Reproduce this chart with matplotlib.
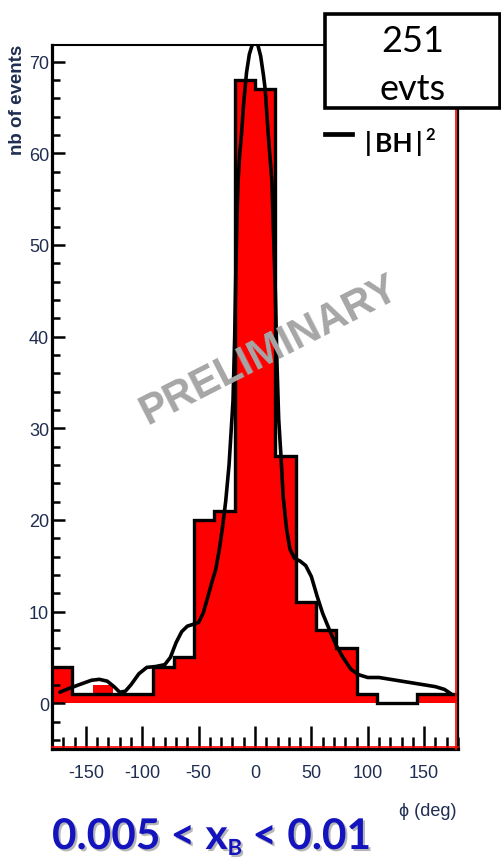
import matplotlib
matplotlib.use("Agg")
import matplotlib.pyplot as plt
import matplotlib.patheffects as pe
from matplotlib.patches import Rectangle
from matplotlib.lines import Line2D
from matplotlib.ticker import MultipleLocator

plt.rcParams["axes.unicode_minus"] = False

# -----------------------------------------------------------
# DATA
# -----------------------------------------------------------
phi_edges = [-180, -162, -144, -126, -108, -90, -72, -54, -36, -18, 0,
             18, 36, 54, 72, 90, 108, 126, 144, 162, 180]
counts_fill = [4, 1, 2, 1, 1, 4, 5, 20, 21, 68, 67, 27, 11, 8, 6, 1, 0, 0, 1, 1]
counts_line = [4, 1, 1, 1, 1, 4, 5, 20, 21, 68, 67, 27, 11, 8, 6, 1, 0, 0, 1, 1]

# |BH|^2 expectation
phi_bh = [-173, -165, -154, -145, -138, -131, -125, -120, -115, -110, -103, -96,
          -88, -80, -75, -70, -65, -60, -55, -50, -46, -42, -38, -35, -32, -29,
          -26, -23, -21, -19.5, -18, -17, -16, -15, -13.5, -12, -10, -7.5, -5,
          -2.5, 0, 2.5, 5, 7.5, 9, 11.5, 13, 15, 16.5, 18, 19.5, 21, 23, 25, 28,
          31, 35, 40, 45, 50, 55, 60, 66, 72, 78, 85, 92, 100, 110, 120, 130,
          140, 150, 160, 168, 174]
bh_vals = [1.2, 1.6, 2.1, 2.5, 2.6, 2.4, 1.8, 1.2, 1.3, 2.0, 3.2, 3.9,
           4.0, 4.2, 5.0, 6.6, 7.8, 8.4, 8.6, 8.8, 9.8, 11.5, 13.3, 14.5, 16.5, 19,
           22, 26, 30, 33, 40, 47, 53, 57, 60, 62, 65.5, 68.8, 70.8,
           71.8, 72, 71.8, 70.6, 68.5, 67, 62.5, 60, 57, 51, 45, 37, 31, 27, 22.5, 19,
           16.8, 15.8, 15.5, 15, 13.8, 11.7, 9.8, 8, 6.3, 5, 3.7, 3.1, 2.8, 2.8, 2.6, 2.4,
           2.2, 2.0, 1.8, 1.5, 1.0]

n_events = 251
xb_low, xb_high = "0.005", "0.01"

W, H = 502, 862
TICK_COLOR = "#1f2d50"


def fpos(x, y):
    # pixel position (from top-left) -> figure fraction
    return x / W, 1 - y / H


# -----------------------------------------------------------
# FIGURE
# -----------------------------------------------------------
fig = plt.figure(figsize=(W / 100, H / 100), dpi=100)
fig.patch.set_facecolor("white")
ax = fig.add_axes([52 / W, (H - 750) / H, (458 - 52) / W, (750 - 46) / H])

ax.stairs(counts_fill, phi_edges, fill=True, color="#ff0000", baseline=0, zorder=1)
ax.stairs(counts_line, phi_edges, color="black", lw=2.4, baseline=None, zorder=2)
ax.plot(phi_bh, bh_vals, color="black", lw=2.6, solid_capstyle="round", zorder=3)

ax.set_xlim(-180, 180)
ax.set_ylim(-5, 71.8)

# frame
for side, lw in (("left", 2.3), ("bottom", 2.3), ("top", 1.5), ("right", 1.6)):
    ax.spines[side].set_linewidth(lw)
    ax.spines[side].set_color("black")
ax.plot([0, 1], [0.0035, 0.0035], transform=ax.transAxes, color="red", lw=1.2, zorder=4, clip_on=False)
ax.plot([0.9955, 0.9955], [0, 1], transform=ax.transAxes, color="red", lw=1.2, zorder=4, clip_on=False)

# ticks
ax.xaxis.set_major_locator(MultipleLocator(50))
ax.xaxis.set_minor_locator(MultipleLocator(10))
ax.yaxis.set_major_locator(MultipleLocator(10))
ax.yaxis.set_minor_locator(MultipleLocator(2))
ax.tick_params(axis="x", which="major", direction="in", length=16.5, width=1.8, pad=11,
               top=False, labelsize=13, labelcolor=TICK_COLOR)
ax.tick_params(axis="x", which="minor", direction="in", length=8.5, width=1.8, top=False)
ax.tick_params(axis="y", which="major", direction="in", length=9.5, width=1.8, pad=2,
               right=False, labelsize=13, labelcolor=TICK_COLOR)
ax.tick_params(axis="y", which="minor", direction="in", length=5.8, width=1.8, right=False)
for lab in ax.get_xticklabels() + ax.get_yticklabels():
    lab.set_family("Liberation Sans")

# axis titles
fig.text(*fpos(18, 45), "nb of events", rotation=90, ha="center", va="top",
         fontsize=13.5, family="Liberation Sans", fontweight="bold", color=TICK_COLOR)
fig.text(*fpos(457, 816), "\u03d5 (deg)", ha="right", va="baseline",
         fontsize=13, family=["Liberation Sans", "DejaVu Sans"], color=TICK_COLOR)

# watermark
ax.text(0.535, 0.568, "PRELIMINARY", transform=ax.transAxes, rotation=27,
        rotation_mode="anchor", ha="center", va="center", fontsize=30,
        fontweight="bold", family="Liberation Sans", color="#a6a6a6", zorder=5)

# event count box
box = Rectangle(fpos(325.5, 108.5), (500.5 - 325.5) / W, (108.5 - 14.5) / H,
                transform=fig.transFigure, facecolor="white", edgecolor="black",
                lw=2.6, zorder=6)
fig.patches.append(box)
fig.text(*fpos(413, 52), str(n_events), ha="center", va="baseline", fontsize=26,
         family="Lato", color="black", zorder=7)
fig.text(*fpos(413, 100), "evts", ha="center", va="baseline", fontsize=26,
         family="Lato", color="black", zorder=7)

# legend entry
fig.lines.append(Line2D([325 / W, 352 / W], [1 - 135 / H, 1 - 135 / H],
                        transform=fig.transFigure, color="black", lw=3.4, zorder=7))
t_bh = fig.text(*fpos(365, 152), "|\u2009BH\u2009|", ha="left", va="baseline", fontsize=19,
                family="Lato", fontweight="bold", color="black", zorder=7)
fig.canvas.draw()
renderer = fig.canvas.get_renderer()
bb = t_bh.get_window_extent(renderer)
fig.text(bb.x1 / W + 3 / W, 1 - 140 / H, "2", ha="left", va="baseline", fontsize=12,
         family="Lato", fontweight="bold", color="black", zorder=7)

# x_B range label
shadow = [pe.SimplePatchShadow(offset=(1.5, -1.5), shadow_rgbFace="#888888", alpha=0.6), pe.Normal()]
blue = "#1414bf"
base_x, base_y = fpos(52, 850)
t1 = fig.text(base_x, base_y, f"{xb_low} < x", ha="left", va="baseline", fontsize=30.5,
              family="Lato", fontweight="bold", color=blue, path_effects=shadow)
bb1 = t1.get_window_extent(renderer)
t2 = fig.text(bb1.x1 / W, base_y - 6 / H, "B", ha="left", va="baseline", fontsize=16,
              family="Lato", fontweight="bold", color=blue, path_effects=shadow)
bb2 = t2.get_window_extent(renderer)
fig.text(bb2.x1 / W, base_y, f" < {xb_high}", ha="left", va="baseline", fontsize=30.5,
         family="Lato", fontweight="bold", color=blue, path_effects=shadow)

fig.savefig("out.png", dpi=100)
